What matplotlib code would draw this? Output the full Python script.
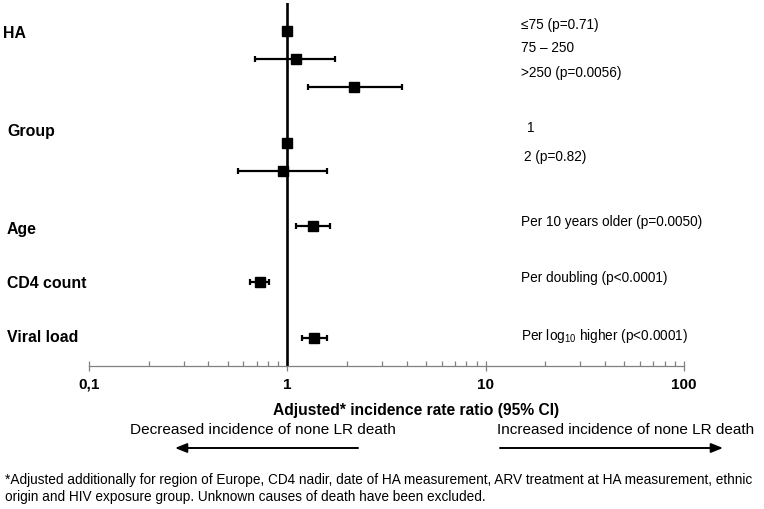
import matplotlib
matplotlib.use("Agg")
import matplotlib.pyplot as plt
from matplotlib import font_manager
from matplotlib.ticker import FixedLocator, NullFormatter

avail = {f.name for f in font_manager.fontManager.ttflist}
MAIN = 'Liberation Sans' if 'Liberation Sans' in avail else 'DejaVu Sans'

plt.rcParams['font.family'] = [MAIN, 'DejaVu Sans']
plt.rcParams['mathtext.fontset'] = 'custom'
plt.rcParams['mathtext.rm'] = MAIN
plt.rcParams['mathtext.it'] = MAIN + ':italic'

# ---- data ----
group_labels = ["HA", "Group", "Age", "CD4 count", "Viral load"]
row_labels = ["\u226475 (p=0.71)", "75 \u2013 250", ">250 (p=0.0056)",
              "1", "2 (p=0.82)",
              "Per 10 years older (p=0.0050)",
              "Per doubling (p<0.0001)",
              r"Per log$_{10}$ higher (p<0.0001)"]
irr = [1.0, 1.10, 2.18, 1.0, 0.95, 1.34, 0.73, 1.37]
ci_low = [None, 0.69, 1.27, None, 0.565, 1.10, 0.65, 1.19]
ci_high = [None, 1.74, 3.78, None, 1.59, 1.64, 0.81, 1.59]
row_pos = [0, 1, 2, 4, 5, 7, 9, 11]
xticks = [0.1, 1, 10, 100]
xticklabels = ["0,1", "1", "10", "100"]
xlabel = "Adjusted* incidence rate ratio (95% CI)"
left_note = "Decreased incidence of none LR death"
right_note = "Increased incidence of none LR death"
footnote1 = ("*Adjusted additionally for region of Europe, CD4 nadir, date of HA measurement, "
             "ARV treatment at HA measurement, ethnic")
footnote2 = "origin and HIV exposure group. Unknown causes of death have been excluded."

W, H = 764, 509
fig = plt.figure(figsize=(W / 100, H / 100), dpi=100)
ax = fig.add_axes([89 / W, 1 - 366 / H, (684 - 89) / W, (366 - 3) / H])
ax.set_xscale('log')
ax.set_xlim(0.1, 100)
ax.set_ylim(12, -1)

ax.axvline(1, color='black', lw=1.9, zorder=2)
for y, v, lo, hi in zip(row_pos, irr, ci_low, ci_high):
    if lo is not None:
        ax.errorbar([v], [y], xerr=[[v - lo], [hi - v]], fmt='none',
                    ecolor='black', elinewidth=1.6, capsize=2.5, capthick=1.6, zorder=3)
    ax.plot([v], [y], marker='s', ms=7.5, color='black', ls='none', zorder=4)

for s in ['top', 'right', 'left']:
    ax.spines[s].set_visible(False)
ax.spines['bottom'].set_color('#808080')
ax.spines['bottom'].set_linewidth(0.9)
ax.set_yticks([])
ax.xaxis.set_major_locator(FixedLocator(xticks))
ax.set_xticklabels(xticklabels, fontsize=11, fontweight='bold')
minors = [m * d for d in (0.1, 1, 10) for m in range(2, 10)]
ax.xaxis.set_minor_locator(FixedLocator(minors))
ax.xaxis.set_minor_formatter(NullFormatter())
ax.tick_params(axis='x', which='major', direction='inout', length=7, width=0.9,
               color='#808080', pad=5)
ax.tick_params(axis='x', which='minor', direction='in', length=3.5, width=0.9,
               color='#808080')

def px(x, y):
    return x / W, 1 - y / H

group_xy = [(3, 33), (7, 132), (7, 229), (7, 283), (7, 337)]
for lab, (x, y) in zip(group_labels, group_xy):
    fig.text(*px(x, y), lab, fontsize=11.4, fontweight='bold', ha='left', va='center')

row_xy = [(521, 25), (521, 48), (521, 73), (527, 128), (524, 157),
          (521, 222), (521, 278), (521, 336)]
for lab, (x, y) in zip(row_labels, row_xy):
    fig.text(*px(x, y), lab, fontsize=9.8, ha='left', va='center')

renderer = fig.canvas.get_renderer()

def fit_text(x0, x1, y, s, ha='center', **kw):
    """Place text so that it spans roughly x0..x1 pixels."""
    xpos = (x0 + x1) / 2 if ha == 'center' else x0
    t = fig.text(*px(xpos, y), s, ha=ha, va='center', fontsize=10, **kw)
    w = t.get_window_extent(renderer).width
    t.set_fontsize(10 * (x1 - x0) / w)
    return t

fit_text(272, 560, 410, xlabel, fontweight='bold')
fit_text(129, 397, 430, left_note)
fit_text(497, 755, 430, right_note)
fit_text(5, 752, 480, footnote1, ha='left')
f2 = fig.text(*px(5, 497), footnote2, ha='left', va='center',
              fontsize=fig.texts[-1].get_fontsize())

arrow = dict(arrowstyle='-|>,head_length=0.7,head_width=0.28', color='black', lw=1.4,
             shrinkA=0, shrinkB=0, mutation_scale=10)
fig.add_artist(matplotlib.patches.FancyArrowPatch(px(358, 448), px(175, 448),
               transform=fig.transFigure, **arrow))
fig.add_artist(matplotlib.patches.FancyArrowPatch(px(500, 448), px(723, 448),
               transform=fig.transFigure, **arrow))

fig.savefig("out.png", dpi=100)
